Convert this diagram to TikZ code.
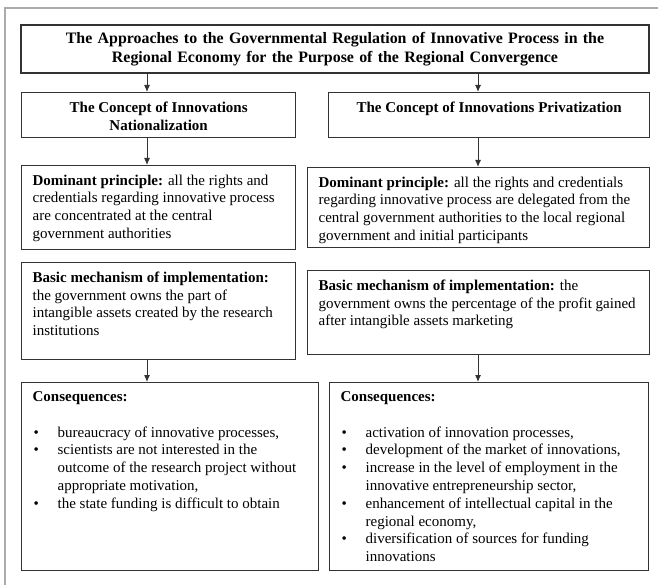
\documentclass[tikz,border=0pt]{standalone}
\usepackage{fontspec}
\setmainfont{Liberation Serif}
\usetikzlibrary{arrows.meta}
\definecolor{boxc}{HTML}{333333}
\definecolor{framec}{HTML}{ABABAB}
\newcommand{\txtsize}{\fontsize{15}{17.8}\selectfont}
\newcommand{\bxcontent}[3]{\begin{minipage}[t][\dimexpr#2pt-18pt\relax][t]{\dimexpr#1pt-22pt\relax}\txtsize\raggedright #3\end{minipage}}
\newcommand{\bul}{\par\noindent\hangindent=25pt\hangafter=1\makebox[25pt][l]{\hspace{1pt}\textbullet}}
\tikzset{
  box/.style={draw=boxc, line width=1.3pt, anchor=north west, inner xsep=11pt, inner ysep=9pt, fill=white},
  arr/.style={draw=boxc, line width=1pt, -{Latex[length=7pt,width=6pt]}},
  framel/.style={draw=framec, line width=2.5pt}
}
\begin{document}
\begin{tikzpicture}[x=1pt,y=-1pt]
\useasboundingbox (0,0) rectangle (658,585);
\fill[white] (0,0) rectangle (658,585);
\draw[framel] (5,585) -- (5,8) -- (658,8);

\node[draw=boxc, line width=1.3pt, inner sep=0pt, minimum width=628pt, minimum height=48pt,
      text width=620pt, align=center, font=\fontsize{15.9}{19}\selectfont\bfseries] (title) at (335,49)
  {The Approaches to the Governmental Regulation of Innovative Process in the\\ Regional Economy for the Purpose of the Regional Convergence};

\node[box] (lcon) at (21,92) {\bxcontent{274}{45}{\centering\bfseries The Concept of Innovations\\ Nationalization}};
\node[box] (rcon) at (328,92) {\bxcontent{321}{45}{\centering\bfseries The Concept of Innovations Privatization}};

\node[box] (ldom) at (21,165) {\bxcontent{274}{84}{\textbf{Dominant principle:} all the rights and\\ credentials regarding innovative process\\ are concentrated at the central\\ government authorities}};
\node[box] (rdom) at (307,167) {\bxcontent{342}{80}{\textbf{Dominant principle:} all the rights and credentials\\ regarding innovative process are delegated from the\\ central government authorities to the local regional\\ government and initial participants}};

\node[box] (lbas) at (21,262) {\bxcontent{274}{97}{\textbf{Basic mechanism of implementation:}\\ the government owns the part of\\ intangible assets created by the research\\ institutions}};
\node[box] (rbas) at (307,270) {\bxcontent{342}{84}{\textbf{Basic mechanism of implementation:} the\\ government owns the percentage of the profit gained\\ after intangible assets marketing}};

\node[box] (lres) at (21,382) {\bxcontent{297}{188}{\textbf{Consequences:}\par\mbox{}
\bul bureaucracy of innovative processes,
\bul scientists are not interested in the\newline outcome of the research project without\newline appropriate motivation,
\bul the state funding is difficult to obtain}};
\node[box] (rres) at (329,382) {\bxcontent{319}{188}{\textbf{Consequences:}\par\mbox{}
\bul activation of innovation processes,
\bul development of the market of innovations,
\bul increase in the level of employment in the\newline innovative entrepreneurship sector,
\bul enhancement of intellectual capital in the\newline regional economy,
\bul diversification of sources for funding\newline innovations}};

\coordinate (ax) at (147,0);
\coordinate (bx) at (478,0);
\draw[arr] (title.south -| ax) -- (lcon.north -| ax);
\draw[arr] (title.south -| bx) -- (rcon.north -| bx);
\draw[arr] (lcon.south -| ax) -- (ldom.north -| ax);
\draw[arr] (rcon.south -| bx) -- (rdom.north -| bx);
\draw[arr] (lbas.south -| ax) -- (lres.north -| ax);
\draw[arr] (rbas.south -| bx) -- (rres.north -| bx);
\end{tikzpicture}
\end{document}
